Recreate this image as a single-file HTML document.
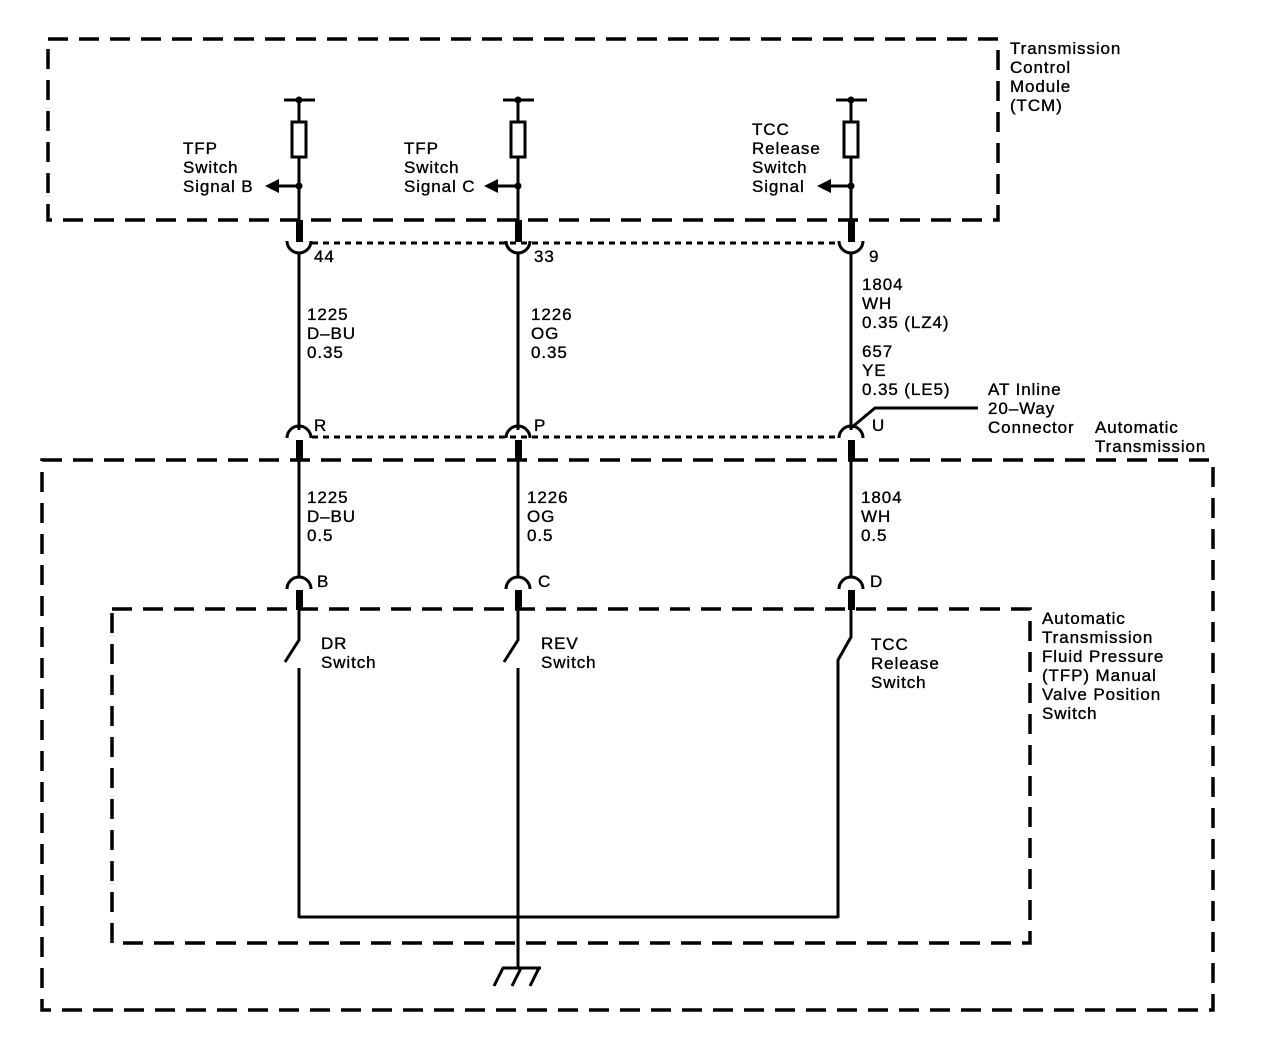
<!DOCTYPE html>
<html><head><meta charset="utf-8"><style>
html,body{margin:0;padding:0;background:#fff}
svg{display:block}
text{font-family:"Liberation Sans",Arial,sans-serif;font-size:17px;letter-spacing:0.9px;fill:#000;stroke:#000;stroke-width:0.35}
</style></head><body>
<svg width="1280" height="1052" viewBox="0 0 1280 1052" xmlns="http://www.w3.org/2000/svg">
<g fill="none" stroke="#000" stroke-width="3.5" stroke-dasharray="20,11">
<rect x="48" y="39" width="950" height="181"/>
<rect x="42" y="460" width="1171" height="550"/>
<rect x="112" y="609" width="918" height="334"/>
</g>
<g fill="none" stroke="#000" stroke-width="3" stroke-dasharray="6,5">
<line x1="312" y1="243" x2="838" y2="243"/>
<line x1="312" y1="437" x2="838" y2="437"/>
</g>
<g fill="none" stroke="#000" stroke-width="3">
<line x1="284" y1="100" x2="315" y2="100"/><line x1="503" y1="100" x2="534" y2="100"/><line x1="836" y1="100" x2="867" y2="100"/>
<line x1="299" y1="100" x2="299" y2="122"/><line x1="518" y1="100" x2="518" y2="122"/><line x1="851" y1="100" x2="851" y2="122"/>
<rect x="292" y="122" width="14" height="35"/><rect x="511" y="122" width="14" height="35"/><rect x="844" y="122" width="14" height="35"/>
<line x1="299" y1="157" x2="299" y2="222"/><line x1="518" y1="157" x2="518" y2="222"/><line x1="851" y1="157" x2="851" y2="222"/>
<line x1="275" y1="186" x2="299" y2="186"/><line x1="494" y1="186" x2="518" y2="186"/><line x1="827" y1="186" x2="851" y2="186"/>
<path d="M287,241 A12,12 0 0 0 311,241"/><path d="M506,241 A12,12 0 0 0 530,241"/><path d="M839,241 A12,12 0 0 0 863,241"/>
<line x1="299" y1="253" x2="299" y2="430"/><line x1="518" y1="253" x2="518" y2="430"/><line x1="851" y1="253" x2="851" y2="430"/>
<path d="M287,438 A12,12 0 0 1 311,438"/><path d="M506,438 A12,12 0 0 1 530,438"/><path d="M839,438 A12,12 0 0 1 863,438"/>
<polyline points="851,428 875,408 978,408"/>
<line x1="299" y1="460" x2="299" y2="578"/><line x1="518" y1="460" x2="518" y2="578"/><line x1="851" y1="460" x2="851" y2="578"/>
<path d="M287,589 A12,12 0 0 1 311,589"/><path d="M506,589 A12,12 0 0 1 530,589"/><path d="M839,589 A12,12 0 0 1 863,589"/>
<polyline points="299,608 299,640 285,662"/>
<polyline points="518,608 518,640 504,662"/>
<polyline points="851,608 851,637 838,660 838,918"/>
<line x1="299" y1="668" x2="299" y2="918"/>
<line x1="518" y1="668" x2="518" y2="968"/>
<line x1="299" y1="917" x2="838" y2="917"/>
<line x1="502" y1="968" x2="541" y2="968"/>
<line x1="503" y1="968" x2="494" y2="986"/><line x1="521" y1="968" x2="512" y2="986"/><line x1="539" y1="968" x2="530" y2="986"/>
</g>
<g fill="#000">
<circle cx="299" cy="100" r="3.5"/><circle cx="518" cy="100" r="3.5"/><circle cx="851" cy="100" r="3.5"/>
<circle cx="299" cy="186" r="3.5"/><circle cx="518" cy="186" r="3.5"/><circle cx="851" cy="186" r="3.5"/>
<polygon points="265,186 279,179 279,193"/><polygon points="484,186 498,179 498,193"/><polygon points="817,186 831,179 831,193"/>
<rect x="296" y="220" width="7" height="22"/><rect x="515" y="220" width="7" height="22"/><rect x="848" y="220" width="7" height="22"/>
<rect x="296" y="440" width="7" height="21"/><rect x="515" y="440" width="7" height="21"/><rect x="848" y="440" width="7" height="21"/>
<rect x="296" y="590" width="7" height="20"/><rect x="515" y="590" width="7" height="20"/><rect x="848" y="590" width="7" height="20"/>
</g>
<text x="1010" y="54">Transmission</text><text x="1010" y="73">Control</text><text x="1010" y="92">Module</text><text x="1010" y="111">(TCM)</text>
<text x="183" y="154">TFP</text><text x="183" y="173">Switch</text><text x="183" y="192">Signal B</text>
<text x="404" y="154">TFP</text><text x="404" y="173">Switch</text><text x="404" y="192">Signal C</text>
<text x="752" y="135">TCC</text><text x="752" y="154">Release</text><text x="752" y="173">Switch</text><text x="752" y="192">Signal</text>
<text x="314" y="262">44</text><text x="534" y="262">33</text><text x="869" y="262">9</text>
<text x="307" y="320">1225</text><text x="307" y="339">D–BU</text><text x="307" y="358">0.35</text>
<text x="531" y="320">1226</text><text x="531" y="339">OG</text><text x="531" y="358">0.35</text>
<text x="862" y="290">1804</text><text x="862" y="309">WH</text><text x="862" y="328">0.35 (LZ4)</text>
<text x="862" y="357">657</text><text x="862" y="376">YE</text><text x="862" y="395">0.35 (LE5)</text>
<text x="988" y="395">AT Inline</text><text x="988" y="414">20–Way</text><text x="988" y="433">Connector</text>
<text x="1095" y="433">Automatic</text><text x="1095" y="452">Transmission</text>
<text x="314" y="431">R</text><text x="534" y="431">P</text><text x="872" y="431">U</text>
<text x="307" y="503">1225</text><text x="307" y="522">D–BU</text><text x="307" y="541">0.5</text>
<text x="527" y="503">1226</text><text x="527" y="522">OG</text><text x="527" y="541">0.5</text>
<text x="861" y="503">1804</text><text x="861" y="522">WH</text><text x="861" y="541">0.5</text>
<text x="317" y="587">B</text><text x="538" y="587">C</text><text x="870" y="587">D</text>
<text x="321" y="649">DR</text><text x="321" y="668">Switch</text>
<text x="541" y="649">REV</text><text x="541" y="668">Switch</text>
<text x="871" y="650">TCC</text><text x="871" y="669">Release</text><text x="871" y="688">Switch</text>
<text x="1042" y="624">Automatic</text><text x="1042" y="643">Transmission</text><text x="1042" y="662">Fluid Pressure</text><text x="1042" y="681">(TFP) Manual</text><text x="1042" y="700">Valve Position</text><text x="1042" y="719">Switch</text>
</svg>
</body></html>
